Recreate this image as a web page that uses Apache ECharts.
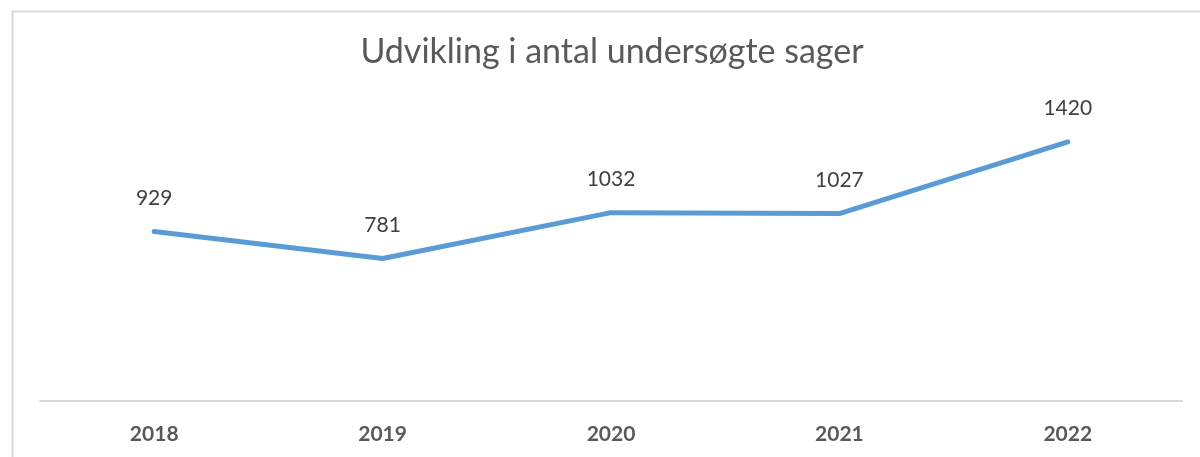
<!DOCTYPE html>
<html>
<head>
<meta charset="utf-8">
<script src="https://cdn.jsdelivr.net/npm/echarts@6/dist/echarts.min.js"></script>
<style>
html,body{margin:0;padding:0;background:#fff;}
#chart{width:1200px;height:457px;}
</style>
</head>
<body>
<div id="chart"></div>
<script>
const titleText = "Udvikling i antal undersøgte sager";
const categories = ["2018", "2019", "2020", "2021", "2022"];
const values = [929, 781, 1032, 1027, 1420];

const chart = echarts.init(document.getElementById('chart'));
chart.setOption({
  backgroundColor: '#ffffff',
  animation: false,
  graphic: [{
    type: 'rect',
    left: 10, top: 9,
    shape: { width: 1200, height: 460 },
    style: { fill: 'none', stroke: '#d9d9d9', lineWidth: 2 },
    silent: true
  }],
  title: {
    text: titleText,
    left: 607, top: 30,
    textAlign: 'center',
    textStyle: { fontFamily: 'Lato', fontSize: 34, fontWeight: 'normal', color: '#595959' }
  },
  grid: { left: 40, right: 18, top: 109, bottom: 56 },
  xAxis: {
    type: 'category',
    data: categories,
    boundaryGap: true,
    axisLine: { show: true, lineStyle: { color: '#d9d9d9', width: 2 } },
    axisTick: { show: false },
    axisLabel: { margin: 23, fontFamily: 'Lato', fontSize: 21, fontWeight: 'bold', color: '#595959' }
  },
  yAxis: {
    type: 'value',
    min: 0, max: 1600, interval: 200,
    show: false,
    splitLine: { show: false }
  },
  series: [{
    type: 'line',
    data: values,
    symbol: 'circle',
    symbolSize: 0,
    showSymbol: true,
    lineStyle: { color: '#5b9bd5', width: 5, cap: 'round', join: 'round' },
    itemStyle: { color: '#5b9bd5' },
    label: {
      show: true, position: 'top', distance: 23,
      fontFamily: 'Lato', fontSize: 21, color: '#404040'
    }
  }]
});
</script>
</body>
</html>
